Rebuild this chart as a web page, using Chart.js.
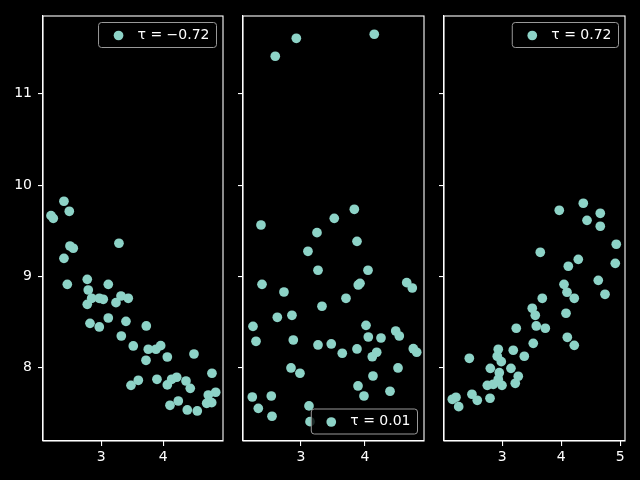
<!DOCTYPE html>
<html>
<head>
<meta charset="utf-8">
<script src="https://cdn.jsdelivr.net/npm/chart.js@4/dist/chart.umd.min.js"></script>
<style>
body { margin: 0; background: #000; }
#wrap { position: relative; width: 640px; height: 480px; }
canvas { position: absolute; left: 0; top: 0; }
</style>
</head>
<body>
<div id="wrap">
<canvas id="cv1" width="640" height="480"></canvas>
<canvas id="cv2" width="640" height="480"></canvas>
<canvas id="cv3" width="640" height="480"></canvas>
</div>
<script>

// data
const x1 = [2.398, 2.484, 2.189, 2.226, 3.285, 2.495, 2.548, 2.398, 2.452, 2.774,
            3.113, 2.790, 2.845, 2.968, 3.032, 2.774, 3.237, 3.318, 3.435, 2.818,
            2.968, 3.113, 3.398, 3.726, 3.323, 3.516, 3.758, 3.882, 3.958, 3.721,
            4.065, 4.495, 4.785, 3.479, 3.597, 3.898, 4.065, 4.135, 4.216, 4.366,
            4.435, 4.726, 4.845, 4.700, 4.781, 4.108, 4.242, 4.387, 4.548];
const y1 = [9.823, 9.713, 9.665, 9.636, 9.363, 9.333, 9.308, 9.198, 8.913, 8.968,
            8.913, 8.851, 8.760, 8.760, 8.749, 8.694, 8.712, 8.785, 8.760, 8.486,
            8.446, 8.544, 8.508, 8.457, 8.347, 8.238, 8.202, 8.202, 8.241, 8.081,
            8.117, 8.150, 7.939, 7.807, 7.862, 7.873, 7.811, 7.873, 7.895, 7.854,
            7.774, 7.701, 7.731, 7.610, 7.617, 7.588, 7.635, 7.537, 7.526];

const x2 = [2.927, 2.598, 4.145, 3.833, 3.520, 2.375, 3.250, 3.875, 3.109, 3.266,
            4.047, 2.391, 2.734, 3.895, 3.922, 4.652, 4.739, 3.703, 3.328, 2.630,
            2.859, 2.250, 4.016, 2.297, 2.880, 4.052, 4.250, 4.480, 4.536, 3.266,
            3.473, 3.645, 3.875, 4.114, 4.183, 4.755, 4.808, 2.844, 2.984, 4.516,
            4.125, 3.891, 4.391, 3.984, 2.239, 2.536, 2.333, 2.547, 3.125, 3.141];
const y2 = [11.608, 11.411, 11.652, 9.735, 9.636, 9.563, 9.479, 9.384, 9.275, 9.067,
            9.067, 8.913, 8.829, 8.906, 8.924, 8.931, 8.873, 8.760, 8.673, 8.552,
            8.574, 8.453, 8.464, 8.289, 8.303, 8.336, 8.325, 8.402, 8.347, 8.249,
            8.260, 8.158, 8.205, 8.120, 8.169, 8.208, 8.169, 7.997, 7.939, 7.997,
            7.909, 7.800, 7.742, 7.690, 7.679, 7.690, 7.555, 7.468, 7.581, 7.409];

const x3 = [4.373, 3.966, 4.661, 4.436, 4.661, 4.932, 3.644, 4.288, 4.119, 4.915,
            4.627, 4.046, 4.097, 4.220, 4.741, 3.678, 3.508, 3.559, 4.080, 3.237,
            3.576, 3.729, 4.102, 4.220, 3.525, 2.932, 3.186, 3.373, 2.915, 2.983,
            2.441, 2.797, 3.147, 2.949, 3.271, 2.932, 2.746, 2.847, 2.995, 3.220,
            2.792, 2.486, 2.576, 2.153, 2.215, 2.261];
const y3 = [9.801, 9.724, 9.691, 9.614, 9.549, 9.352, 9.264, 9.187, 9.111, 9.143,
            8.957, 8.913, 8.826, 8.760, 8.804, 8.760, 8.651, 8.574, 8.596, 8.432,
            8.457, 8.432, 8.333, 8.245, 8.267, 8.202, 8.191, 8.125, 8.125, 8.066,
            8.103, 7.993, 7.993, 7.945, 7.906, 7.873, 7.807, 7.818, 7.807, 7.829,
            7.665, 7.709, 7.643, 7.654, 7.676, 7.573];

const labels = ["τ = −0.72", "τ = 0.01", "τ = 0.72"];
const xTicks1 = [3, 4];
const xTicks2 = [3, 4];
const xTicks3 = [3, 4, 5];
const yTicks = [8, 9, 10, 11];
const xRange1 = [2.060, 4.963];
const xRange2 = [2.094, 4.922];
const xRange3 = [2.012, 5.080];
const yRange = [7.197, 11.852];

const dotColor = "#8dd3c7";
const font = { family: "'DejaVu Sans', sans-serif", size: 14 };

// spines all round the plot area
const framePlugin = {
    id: "frame",
    afterDraw(chart) {
        const a = chart.chartArea, ctx = chart.ctx;
        ctx.save();
        ctx.strokeStyle = "#fff";
        ctx.lineWidth = 1.1;
        ctx.strokeRect(a.left, a.top, a.right - a.left, a.bottom - a.top);
        ctx.restore();
    }
};

// matplotlib-like legend box inside the axes
const tauLegend = {
    id: "tauLegend",
    afterDraw(chart, args, opts) {
        const a = chart.chartArea, ctx = chart.ctx;
        const ds = chart.data.datasets[0];
        ctx.save();
        ctx.font = "14px 'DejaVu Sans', sans-serif";
        const tw = ctx.measureText(ds.label).width;
        const h = 25, w = tw + 46;
        const right = a.right - 6.5;
        const top = opts.corner === "lower" ? a.bottom - 7 - h : a.top + 6.5;
        const left = right - w;
        ctx.beginPath();
        ctx.roundRect(left, top, w, h, 3);
        ctx.fillStyle = "rgba(0,0,0,0.8)";
        ctx.fill();
        ctx.strokeStyle = "#999";
        ctx.lineWidth = 1;
        ctx.stroke();
        ctx.beginPath();
        ctx.arc(left + 20, top + 13, 4.85, 0, Math.PI * 2);
        ctx.fillStyle = ds.backgroundColor;
        ctx.fill();
        ctx.fillStyle = "#fff";
        ctx.textAlign = "right";
        ctx.textBaseline = "middle";
        ctx.fillText(ds.label, right - 7, top + h / 2);
        ctx.restore();
    }
};

function makeChart(id, xs, ys, label, xRange, xTicks, showY, area, corner) {
    const canvas = document.getElementById(id);
    const points = xs.map((v, i) => ({ x: v, y: ys[i] }));

    new Chart(canvas, {
        type: "scatter",
        data: {
            datasets: [{
                label: label,
                data: points,
                backgroundColor: dotColor,
                borderWidth: 0,
                pointRadius: 4.85
            }]
        },
        options: {
            responsive: false,
            animation: false,
            devicePixelRatio: 1,
            layout: { padding: { left: area[0] - 45, right: 640 - area[1], top: 16, bottom: 0 } },
            plugins: {
                legend: { display: false },
                tooltip: { enabled: false },
                tauLegend: { corner: corner }
            },
            scales: {
                x: {
                    type: "linear",
                    min: xRange[0],
                    max: xRange[1],
                    afterBuildTicks: s => { s.ticks = xTicks.map(v => ({ value: v })); },
                    afterFit: s => { s.height = 39; },
                    grid: { drawOnChartArea: false, color: "#fff", tickLength: 5, lineWidth: 1.1 },
                    border: { color: "#fff", width: 1.1 },
                    ticks: { color: "#fff", font: font, padding: 3, maxRotation: 0 }
                },
                y: {
                    type: "linear",
                    min: yRange[0],
                    max: yRange[1],
                    afterBuildTicks: s => { s.ticks = yTicks.map(v => ({ value: v })); },
                    afterFit: s => { s.width = 45; },
                    grid: { drawOnChartArea: false, color: "#fff", tickLength: 5, lineWidth: 1.1 },
                    border: { color: "#fff", width: 1.1 },
                    ticks: {
                        color: "#fff",
                        font: font,
                        padding: 6,
                        callback: v => showY ? String(v) : ""
                    }
                }
            }
        },
        plugins: [framePlugin, tauLegend]
    });
}

makeChart("cv1", x1, y1, labels[0], xRange1, xTicks1, true, [43, 223], "upper");
makeChart("cv2", x2, y2, labels[1], xRange2, xTicks2, false, [243, 424], "lower");
makeChart("cv3", x3, y3, labels[2], xRange3, xTicks3, false, [444, 625], "upper");
</script>
</body>
</html>
